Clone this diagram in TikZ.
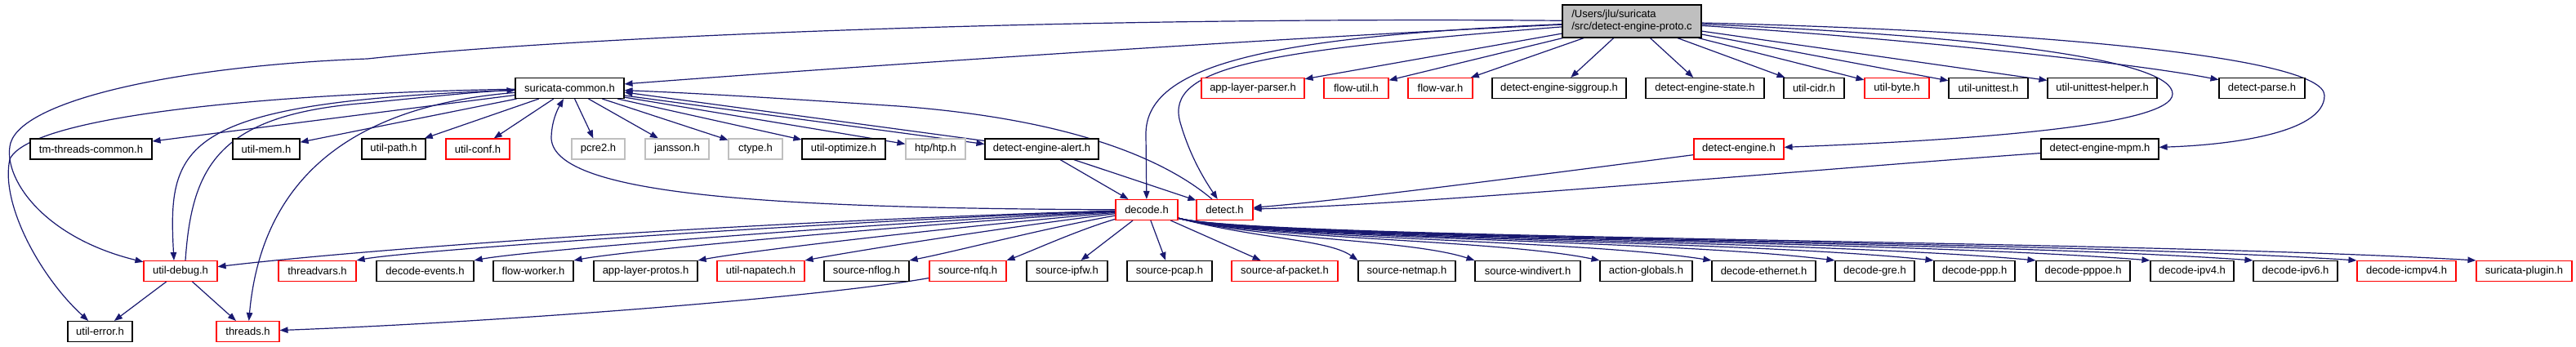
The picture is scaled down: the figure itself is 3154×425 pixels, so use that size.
\documentclass[tikz,border=0pt]{standalone}
\usepackage{fontspec}
\setmainfont{Liberation Sans}
\usetikzlibrary{arrows.meta,calc,backgrounds}
\definecolor{edgec}{HTML}{191970}
\definecolor{grayb}{HTML}{BFBFBF}
\begin{document}
\begin{tikzpicture}[x=1pt,y=-1pt,
  box/.style={draw, rectangle, fill=white, minimum height=25pt, inner sep=0pt, line width=1.1pt, font=\fontsize{13}{15}\selectfont, text=black},
  bk/.style={box, draw=black},
  rd/.style={box, draw=red},
  gy/.style={box, draw=grayb},
  conn/.style={draw=edgec, line width=1.2pt, -{Triangle[length=10pt,width=7.5pt]}}
]
\useasboundingbox (0,0) rectangle (3154,425);

% rank 0
\node[box, draw=black, fill=grayb, minimum width=170pt, minimum height=40pt, align=left] (root) at (1998,26) {/Users/jlu/suricata\\/src/detect-engine-proto.c};

% rank 1
\node[bk, minimum width=133pt] (sc) at (697.5,108) {suricata-common.h};
\node[rd, minimum width=126pt] (alp) at (1534,108) {app-layer-parser.h};
\node[rd, minimum width=79pt] (fu) at (1660.5,108) {flow-util.h};
\node[rd, minimum width=79pt] (fv) at (1763.5,108) {flow-var.h};
\node[bk, minimum width=164pt] (degs) at (1909,108) {detect-engine-siggroup.h};
\node[bk, minimum width=145pt] (dest) at (2087.5,108) {detect-engine-state.h};
\node[bk, minimum width=74pt] (cidr) at (2221,108) {util-cidr.h};
\node[rd, minimum width=79pt] (byte) at (2322.5,108) {util-byte.h};
\node[bk, minimum width=97pt] (ut) at (2434.5,108) {util-unittest.h};
\node[bk, minimum width=134pt] (uth) at (2574,108) {util-unittest-helper.h};
\node[bk, minimum width=105pt] (dp) at (2769.5,108) {detect-parse.h};

% rank 2
\node[bk, minimum width=149pt] (ttc) at (111.5,182.5) {tm-threads-common.h};
\node[bk, minimum width=82pt] (mem) at (326,182.5) {util-mem.h};
\node[bk, minimum width=78pt] (path) at (482,182.5) {util-path.h};
\node[rd, minimum width=78pt] (conf) at (585,182.5) {util-conf.h};
\node[gy, minimum width=65pt] (pcre) at (732.5,182.5) {pcre2.h};
\node[gy, minimum width=78pt] (jans) at (829,182.5) {jansson.h};
\node[gy, minimum width=66pt] (ctype) at (925,182.5) {ctype.h};
\node[bk, minimum width=102pt] (opt) at (1033,182.5) {util-optimize.h};
\node[gy, minimum width=73pt] (htp) at (1145.5,182.5) {htp/htp.h};
\node[bk, minimum width=139pt] (dea) at (1275.5,182.5) {detect-engine-alert.h};
\node[rd, minimum width=110pt] (de) at (2129,182.5) {detect-engine.h};
\node[bk, minimum width=144pt] (dem) at (2571,182.5) {detect-engine-mpm.h};

% rank 3
\node[rd, minimum width=76pt] (decode) at (1404,257) {decode.h};
\node[rd, minimum width=69pt] (detect) at (1499.5,257) {detect.h};

% rank 4
\node[rd, minimum width=90pt] (dbg) at (221,332) {util-debug.h};
\node[rd, minimum width=95pt] (tv) at (388.5,332) {threadvars.h};
\node[bk, minimum width=119pt] (dev) at (520.5,332) {decode-events.h};
\node[bk, minimum width=98pt] (fw) at (653,332) {flow-worker.h};
\node[bk, minimum width=127pt] (alpr) at (790.5,332) {app-layer-protos.h};
\node[rd, minimum width=107pt] (nap) at (931.5,332) {util-napatech.h};
\node[bk, minimum width=104pt] (nflog) at (1061,332) {source-nflog.h};
\node[rd, minimum width=94pt] (nfq) at (1185,332) {source-nfq.h};
\node[bk, minimum width=99pt] (ipfw) at (1306.5,332) {source-ipfw.h};
\node[bk, minimum width=104pt] (pcap) at (1432,332) {source-pcap.h};
\node[rd, minimum width=130pt] (afp) at (1573,332) {source-af-packet.h};
\node[bk, minimum width=119pt] (netmap) at (1722.5,332) {source-netmap.h};
\node[bk, minimum width=129pt] (windiv) at (1870.5,332) {source-windivert.h};
\node[bk, minimum width=113pt] (ag) at (2015.5,332) {action-globals.h};
\node[bk, minimum width=127pt] (eth) at (2159.5,332) {decode-ethernet.h};
\node[bk, minimum width=97pt] (gre) at (2295.5,332) {decode-gre.h};
\node[bk, minimum width=99pt] (ppp) at (2417.5,332) {decode-ppp.h};
\node[bk, minimum width=115pt] (pppoe) at (2550.5,332) {decode-pppoe.h};
\node[bk, minimum width=102pt] (ipv4) at (2684,332) {decode-ipv4.h};
\node[bk, minimum width=103pt] (ipv6) at (2810.5,332) {decode-ipv6.h};
\node[rd, minimum width=121pt] (icmp) at (2946.5,332) {decode-icmpv4.h};
\node[rd, minimum width=117pt] (plugin) at (3090.5,332) {suricata-plugin.h};

% rank 5
\node[bk, minimum width=79pt] (err) at (122.5,406) {util-error.h};
\node[rd, minimum width=77pt] (thr) at (303.5,406) {threads.h};

\begin{scope}[on background layer]
\fill[white] (0,0) rectangle (3154,425);
% from root
\draw[conn] (root) .. controls (1500,50) and (1000,85) .. (sc);
\draw[conn] (root) -- (alp);
\draw[conn] (root) -- (fu);
\draw[conn] (root) -- (fv);
\draw[conn] (root) -- (degs);
\draw[conn] (root) -- (dest);
\draw[conn] (root) -- (cidr);
\draw[conn] (root) -- (byte);
\draw[conn] (root) -- (ut);
\draw[conn] (root) -- (uth);
\draw[conn] (root) .. controls (2300,45) and (2600,75) .. (dp);
\draw[conn] (root) .. controls (2450,45) and (2660,75) .. (2660,115) .. controls (2660,155) and (2400,172) .. (de);
\draw[conn] (root) .. controls (2500,38) and (2846,70) .. (2846,117) .. controls (2846,165) and (2720,178) .. (dem);
\draw[conn] (root) .. controls (1550,45) and (1402,80) .. (1403,165) -- (decode);
\draw[conn] (root) .. controls (1550,62) and (1425,80) .. (1445,150) .. controls (1458,195) and (1478,225) .. (detect);
\draw[conn] (root) .. controls (1300,20) and (700,45) .. (450,72) .. controls (230,80) and (30,120) .. (13,175) .. controls (2,215) and (50,290) .. (dbg);

% from suricata-common
\draw[conn] (sc) -- (ttc);
\draw[conn] (sc) -- (mem);
\draw[conn] (sc) -- (path);
\draw[conn] (sc) -- (conf);
\draw[conn] (sc) -- (pcre);
\draw[conn] (sc) -- (jans);
\draw[conn] (sc) -- (ctype);
\draw[conn] (sc) -- (opt);
\draw[conn] (sc) -- (htp);
\draw[conn] ($(sc.east)+(0,9)$) -- ($(dea.west)+(0,-6)$);
\draw[conn] ($(dea.west)+(0,-10)$) -- ($(sc.east)+(0,5)$);
\draw[conn] (sc) .. controls (400,132) and (318,245) .. (thr);
\draw[conn] (sc) .. controls (220,125) and (205,175) .. ($(dbg.north)+(-8,0)$);
\draw[conn] ($(dbg.north)+(6,0)$) .. controls (235,200) and (270,140) .. (450,126) .. controls (540,117) and (590,112) .. (sc);
\draw[conn] (sc) .. controls (300,115) and (35,145) .. (12,195) .. controls (0,250) and (50,340) .. (err);

% back to suricata-common
\draw[conn] (detect) .. controls (1420,190) and (1300,145) .. (1100,130) .. controls (950,120) and (850,114) .. (sc);
\draw[conn] (decode) .. controls (950,255) and (680,240) .. (675,170) .. controls (675,150) and (682,135) .. (sc);

% detect-engine-alert, detect-engine, mpm
\draw[conn] (dea) -- (decode);
\draw[conn] (dea) -- (detect);
\draw[conn] (de) .. controls (1900,212) and (1650,245) .. (detect);
\draw[conn] (dem) .. controls (2250,205) and (1750,250) .. (detect);

% decode.h to the left
\draw[conn] (decode) .. controls (900,272) and (450,305) .. (dbg);
\draw[conn] (decode) .. controls (1040,270) and (506,306) .. (tv.north east);
\draw[conn] (decode) .. controls (1091,272) and (650,306) .. (dev.north east);
\draw[conn] (decode) .. controls (1134,274) and (772,306) .. (fw.north east);
\draw[conn] (decode) .. controls (1187,276) and (924,306) .. (alpr.north east);
\draw[conn] (decode) .. controls (1233,278) and (1055,306) .. (nap.north east);
\draw[conn] (decode) .. controls (1277,280) and (1170,308) .. (nflog.north east);
\draw[conn] (decode) .. controls (1319,282) and (1262,308) .. (nfq.north east);
\draw[conn] (decode) -- (ipfw);
\draw[conn] (decode) -- (pcap);
\draw[conn] (decode) -- (afp);
% decode.h to the right
\draw[conn] (decode) .. controls (1540,293) and (1626,293) .. (netmap.north west);
\draw[conn] (decode) .. controls (1540,293) and (1726,293) .. (windiv.north west);
\draw[conn] (decode) .. controls (1540,293) and (1833,293) .. (ag.north west);
\draw[conn] (decode) .. controls (1540,293) and (1929,293) .. (eth.north west);
\draw[conn] (decode) .. controls (1540,293) and (2035,293) .. (gre.north west);
\draw[conn] (decode) .. controls (1540,293) and (2120,293) .. (ppp.north west);
\draw[conn] (decode) .. controls (1540,293) and (2207,293) .. (pppoe.north west);
\draw[conn] (decode) .. controls (1540,293) and (2305,293) .. (ipv4.north west);
\draw[conn] (decode) .. controls (1540,293) and (2393,293) .. (ipv6.north west);
\draw[conn] (decode) .. controls (1540,293) and (2482,293) .. (icmp.north west);
\draw[conn] (decode) .. controls (1540,293) and (2584,293) .. (plugin.north west);

% lower edges
\draw[conn] (dbg) -- (err);
\draw[conn] (dbg) -- (thr);
\draw[conn] (nfq) .. controls (1000,365) and (600,395) .. (thr);
\end{scope}
\end{tikzpicture}
\end{document}
